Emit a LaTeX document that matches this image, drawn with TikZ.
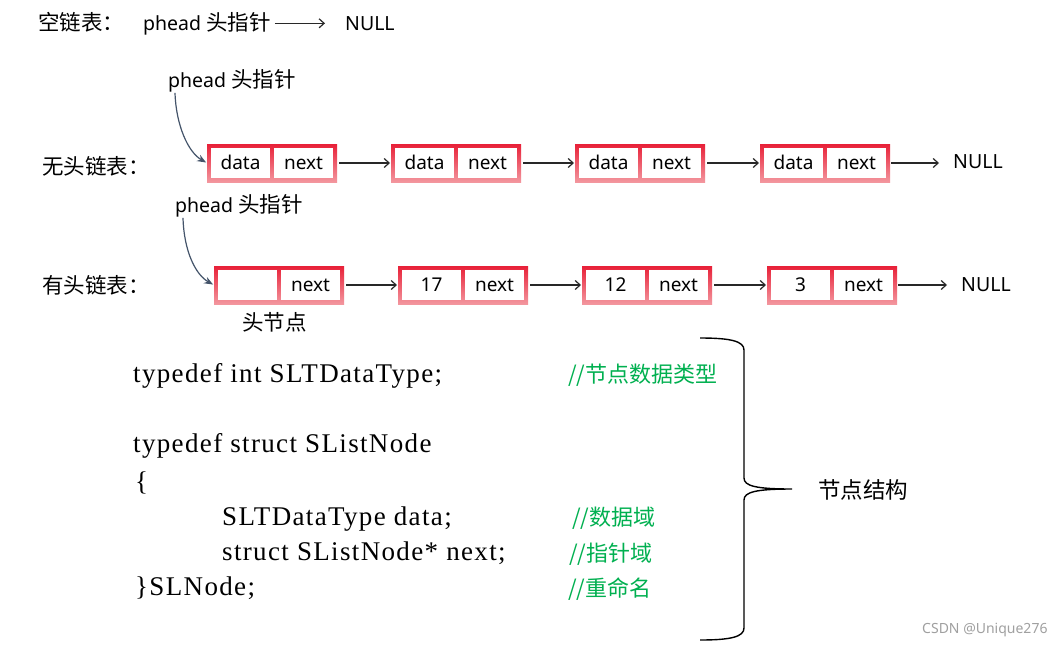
\documentclass[tikz,border=0pt]{standalone}
\usepackage{fontspec}
\setmainfont{Noto Sans}
\newfontfamily\cjk{Noto Sans CJK SC}
\newfontfamily\codefont{Liberation Serif}[LetterSpace=5.0]
\usetikzlibrary{arrows.meta}
\definecolor{boxtop}{RGB}{232,32,56}
\definecolor{boxbot}{RGB}{243,150,158}
\definecolor{curvc}{RGB}{68,84,106}
\definecolor{cmtc}{RGB}{0,176,80}
\definecolor{arrc}{RGB}{40,40,40}
\definecolor{wmc}{RGB}{160,160,160}

% name, x, y(top), width, height, divider offset, left text, right text
\newcommand\llnode[8]{%
  \shade[top color=boxtop,bottom color=boxbot] (#2,#3) rectangle ({#2+#4},{#3+#5});
  \fill[white] ({#2+4},{#3+4}) rectangle ({#2+#6-2},{#3+#5-4});
  \fill[white] ({#2+#6+2},{#3+4}) rectangle ({#2+#4-4},{#3+#5-4});
  \node[lframe,minimum width=#4pt,minimum height=#5pt,anchor=north west] (#1) at (#2,#3) {};
  \node[celltxt] (#1d) at ({#2+(#6+2)/2},{#3+#5/2+6.5}) {#7};
  \node[celltxt] (#1n) at ({#2+(#6+#4-2)/2},{#3+#5/2+6.5}) {#8};
}
\newcommand\hz[1]{{\cjk\fontsize{21.5}{24}\selectfont #1}}

\begin{document}
\begin{tikzpicture}[x=1pt,y=-1pt,
  lframe/.style={inner sep=0pt,outer sep=0pt,draw=none},
  celltxt/.style={anchor=base,inner sep=0pt,font=\fontsize{19}{21}\selectfont},
  lbl/.style={anchor=base west,inner sep=0pt,font=\fontsize{19.5}{22}\selectfont},
  cjklbl/.style={anchor=base west,inner sep=0pt,font=\cjk\fontsize{21.5}{24}\selectfont},
  code/.style={anchor=base west,inner sep=0pt,font=\codefont\fontsize{27}{30}\selectfont},
  cmt/.style={anchor=base west,inner sep=0pt,text=cmtc,font=\cjk\fontsize{22}{24}\selectfont},
  arr/.style={draw=arrc,line width=1.2pt,-{Straight Barb[length=5pt,width=9pt]}},
  curv/.style={draw=curvc,line width=1.2pt,-{Stealth[length=9pt,width=7pt]}},
]
\useasboundingbox[fill=white] (0,0) rectangle (1064,646);

% ---- empty list
\node[cjklbl] (t0) at (38,30) {空链表：};
\node[lbl] (p0) at (143,30) {phead \hz{头指针}};
\node[lbl] (n0) at (345,30) {NULL};
\draw[arr,shorten <=4pt,shorten >=20pt] (p0.east) -- (p0.east -| n0.west);

% ---- list without head
\node[lbl] (p1) at (168,87) {phead \hz{头指针}};
\node[cjklbl] (t1) at (42,174) {无头链表：};
\llnode{a1}{207}{144}{130}{38}{65}{data}{next}
\llnode{a2}{391}{144}{130}{38}{65}{data}{next}
\llnode{a3}{575}{144}{130}{38}{65}{data}{next}
\llnode{a4}{760}{144}{130}{38}{65}{data}{next}
\node[lbl] (nl1) at (953,168) {NULL};
\draw[arr,shorten <=2pt,shorten >=1pt] (a1.east) -- (a2.west);
\draw[arr,shorten <=2pt,shorten >=1pt] (a2.east) -- (a3.west);
\draw[arr,shorten <=2pt,shorten >=1pt] (a3.east) -- (a4.west);
\draw[arr,shorten <=1pt,shorten >=14pt] (a4.east) -- (a4.east -| nl1.west);
\draw[curv,shorten >=1pt] ([xshift=7pt,yshift=-1pt]p1.south west) .. controls (176,125) and (188,152) .. (a1.west);

% ---- list with head
\node[lbl] (p2) at (175,212) {phead \hz{头指针}};
\node[cjklbl] (t2) at (42,293) {有头链表：};
\llnode{h1}{214}{266}{130}{38}{65}{}{next}
\llnode{h2}{398}{266}{130}{38}{65}{17}{next}
\llnode{h3}{582}{266}{130}{38}{65}{12}{next}
\llnode{h4}{767}{266}{130}{38}{65}{3}{next}
\node[lbl] (nl2) at (961,291) {NULL};
\node[cjklbl] (hn) at (242,330) {头节点};
\draw[arr,shorten <=2pt,shorten >=1pt] (h1.east) -- (h2.west);
\draw[arr,shorten <=2pt,shorten >=1pt] (h2.east) -- (h3.west);
\draw[arr,shorten <=2pt,shorten >=1pt] (h3.east) -- (h4.west);
\draw[arr,shorten <=1pt,shorten >=14pt] (h4.east) -- (h4.east -| nl2.west);
\draw[curv,shorten >=1pt] ([xshift=8pt,yshift=-1pt]p2.south west) .. controls (184,252) and (196,275) .. (h1.west);

% ---- code
\node[code] (c1) at (133,382) {typedef int SLTDataType;};
\node[code] (c2) at (133,452) {typedef struct SListNode};
\node[code] (c3) at (135,490) {\{};
\node[code] (c4) at (222,525) {SLTDataType data;};
\node[code] (c5) at (222,560) {struct SListNode* next;};
\node[code] (c6) at (135,595) {\}SLNode;};

\node[cmt] (m1) at (568,382) {//节点数据类型};
\node[cmt] (m4) at (572,525) {//数据域};
\node[cmt] (m5) at (569,561) {//指针域};
\node[cmt] (m6) at (568,596) {//重命名};

% ---- brace
\coordinate (brtip) at (792,489);
\draw[line width=1.4pt] (700,338) .. controls (730,338) and (744,341) .. (744,350)
  -- (744,478) .. controls (744,486) and (756,489) .. (brtip)
  .. controls (756,489) and (744,492) .. (744,500)
  -- (744,628) .. controls (744,637) and (730,640) .. (700,640);
\node[cjklbl,font=\cjk\fontsize{22.5}{24}\selectfont] (st) at (818,498) {节点结构};

% ---- watermark
\node[anchor=base west,inner sep=0pt,text=wmc,font=\fontsize{14}{16}\selectfont] (wm) at (922,633) {CSDN @Unique276};
\end{tikzpicture}
\end{document}
